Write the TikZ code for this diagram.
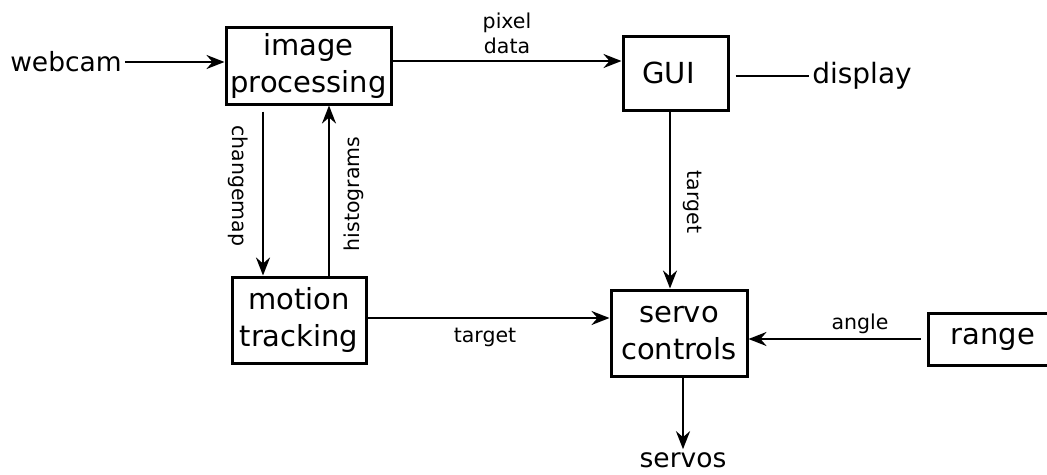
\documentclass[tikz,border=0pt]{standalone}
\usepackage{fontspec}
\setmainfont{DejaVu Sans}
\usetikzlibrary{arrows.meta}

\tikzset{
  block/.style={draw, line width=3pt, inner sep=0pt, align=center,
    font=\fontsize{29}{37}\selectfont},
  ext/.style={inner sep=3pt, font=\fontsize{26.5}{32}\selectfont},
  tag/.style={inner sep=0pt, align=center, font=\fontsize{20.5}{25}\selectfont},
  flow/.style={line width=2.5pt, -{Stealth[length=18pt,width=14pt,inset=6pt]}},
  plain/.style={line width=2.5pt}
}

\begin{document}
\begin{tikzpicture}[x=1pt,y=-1pt]
  \useasboundingbox (0,0) rectangle (1047,474);

  % processing blocks
  \node[block, minimum width=165pt, minimum height=77pt] (ip) at (308.5,65.5) {image\\processing};
  \node[block, minimum width=105pt, minimum height=74pt] (gui) at (675.5,73) {GUI\hspace{14pt}};
  \node[block, minimum width=134pt, minimum height=86pt] (mt) at (299,320) {motion\\tracking};
  \node[block, minimum width=136pt, minimum height=86pt] (sc) at (679,333) {servo\\controls};
  \node[block, minimum width=130pt, minimum height=52pt] (rg) at (993,339) {range};

  % external endpoints
  \node[ext] (webcam) at (66,62) {webcam};
  \node[ext, font=\fontsize{28}{32}\selectfont] (display) at (862,76) {display};
  \node[ext] (servos) at (683,460) {servos};

  % connectors
  \draw[flow] (webcam.east) -- (webcam.east -| ip.west);
  \draw[flow] (ip.east |- 0,61) -- (gui.west |- 0,61);
  \draw[plain] ([xshift=6pt]gui.east |- 0,76) -- (display.west);
  \draw[flow] ([yshift=-6pt]ip.south -| 263,0) -- (mt.north -| 263,0);
  \draw[flow] (mt.north -| 329,0) -- (ip.south -| 329,0);
  \draw[flow] (gui.south -| 670,0) -- (sc.north -| 670,0);
  \draw[flow] (mt.east |- 0,318) -- (sc.west |- 0,318);
  \draw[flow] ([xshift=-6pt]rg.west) -- (sc.east |- rg.west);
  \draw[flow] (sc.south -| 683,0) -- (servos.north);

  % connector labels
  \node[tag] (lpix) at (507,33) {pixel\\data};
  \node[tag, rotate=-90] (lchg) at (238,186) {changemap};
  \node[tag, rotate=90] (lhist) at (354,194) {histograms};
  \node[tag, rotate=-90] (ltgt1) at (693,202) {target};
  \node[tag] (ltgt2) at (485,337) {target};
  \node[tag] (lang) at (860,324) {angle};
\end{tikzpicture}
\end{document}
